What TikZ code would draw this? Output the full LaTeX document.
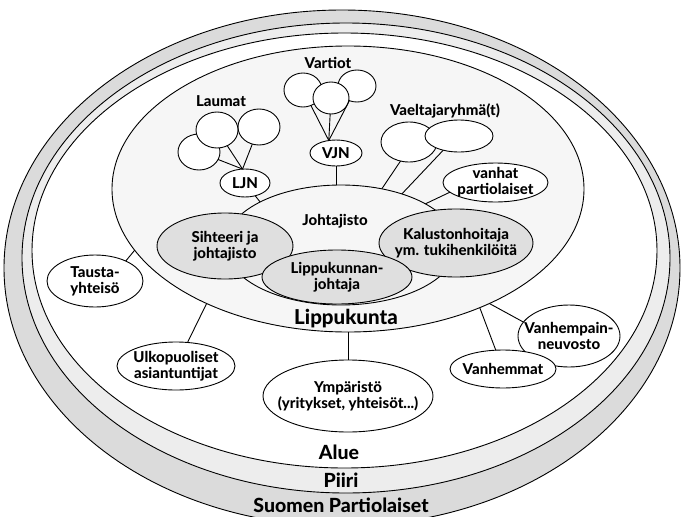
\documentclass[tikz,border=0pt]{standalone}
\usepackage{fontspec}
\setmainfont{Lato}[BoldFont={Lato Heavy}]
\usetikzlibrary{shapes.geometric}
\definecolor{bandouter}{gray}{0.86}
\definecolor{bandmid}{gray}{0.93}
\definecolor{lpkfill}{gray}{0.965}
\definecolor{ovalgray}{gray}{0.875}

\begin{document}
\begin{tikzpicture}[x=1pt,y=-1pt,line width=0.9pt,
  lbl/.style={font=\bfseries\fontsize{15}{16}\selectfont,align=center},
  oval/.style={ellipse,draw,fill=white,inner sep=-30pt,outer sep=0pt,lbl},
  grayoval/.style={oval,fill=ovalgray},
  ringlbl/.style={font=\bfseries\fontsize{19.5}{22}\selectfont,anchor=base}]
\useasboundingbox (0,0) rectangle (681,517);
\begin{scope}
\clip (0,0) rectangle (681,517);
\filldraw[fill=bandouter] (342,268) ellipse [x radius=338pt,y radius=258pt];
\filldraw[fill=bandmid] (346,258) ellipse [x radius=324pt,y radius=235pt];
\filldraw[fill=white] (344.5,250.5) ellipse [x radius=312.5pt,y radius=217.5pt];
\end{scope}
\node[ringlbl] (suomen) at (341,512) {Suomen Partiolaiset};
\node[ringlbl] (piiri) at (341,487) {Piiri};
\node[ringlbl] (alue) at (339,459) {Alue};

\node[ellipse,draw,fill=lpkfill,inner sep=-30pt,outer sep=0pt,minimum width=472pt,minimum height=286pt] (lpk) at (348,189) {};
\node[font=\bfseries\fontsize{20.5}{22}\selectfont,anchor=base] (lpklbl) at (346,324) {Lippukunta};

\node[ellipse,draw,fill=lpkfill,inner sep=-30pt,outer sep=0pt,minimum width=232pt,minimum height=120pt] (jht) at (341,245) {};
\node[lbl,anchor=base] (jhtlbl) at (335,225) {Johtajisto};
\node[grayoval,minimum width=136pt,minimum height=66pt] (siht) at (225,246) {Sihteeri ja\\johtajisto};
\node[grayoval,minimum width=154pt,minimum height=68pt] (kalu) at (456,243) {Kalustonhoitaja\\ym. tukihenkilöitä};
\node[grayoval,minimum width=150pt,minimum height=54pt] (lpj) at (337,277) {Lippukunnan-\\johtaja};

\node[lbl,anchor=base] (laumat) at (221,106) {Laumat};
\node[oval,minimum width=42pt,minimum height=36pt] (l1) at (199,152) {};
\node[oval,minimum width=42pt,minimum height=36pt] (l3) at (259,127) {};
\node[oval,minimum width=42pt,minimum height=36pt] (l2) at (217,130) {};
\node[oval,minimum width=50pt,minimum height=28pt] (ljn) at (245,183) {LJN};

\node[lbl,anchor=base] (vartiot) at (328,68) {Vartiot};
\node[oval,minimum width=38pt,minimum height=34pt] (v1) at (303,90) {};
\node[oval,minimum width=38pt,minimum height=32pt] (v3) at (357,86) {};
\node[oval,minimum width=36pt,minimum height=32pt] (v2) at (331,98) {};
\node[oval,minimum width=52pt,minimum height=26pt] (vjn) at (336,153) {VJN};

\node[lbl,anchor=base] (vaeltajat) at (445,115) {Vaeltajaryhmä(t)};
\node[oval,minimum width=56pt,minimum height=40pt] (w1) at (409,142) {};
\node[oval,minimum width=68pt,minimum height=32pt] (w2) at (459,136) {};
\node[oval,minimum width=105pt,minimum height=39pt] (vanhat) at (495.5,182.5) {vanhat\\partiolaiset};

\node[oval,minimum width=96pt,minimum height=52pt] (tausta) at (95,281) {Tausta-\\yhteisö};
\node[oval,minimum width=118pt,minimum height=48pt] (ulko) at (176,366) {Ulkopuoliset\\asiantuntijat};
\node[oval,minimum width=170pt,minimum height=72pt] (ymp) at (348,396) {Ympäristö\\(yritykset, yhteisöt...)};
\node[oval,minimum width=102pt,minimum height=62pt] (neuvosto) at (569,336) {Vanhempain-\\neuvosto};
\node[oval,minimum width=106pt,minimum height=38pt] (vanhemmat) at (503,369) {Vanhemmat};

\draw (ljn.100) -- (l1);
\draw (ljn.100) -- (l2);
\draw (ljn.100) -- (l3);
\draw (vjn.120) -- (v1);
\draw (vjn.120) -- (v2);
\draw (vjn.120) -- (v3);
\draw (ljn) -- (jht.152);
\draw (vjn.south) -- (vjn.south |- jht.north);
\draw (w1.-114) -- (jht.54);
\draw (w2.-138) -- (jht.40);
\draw (vanhat.192) -- (jht.26);
\draw (tausta.33) -- (lpk.196);
\draw (ulko) -- (lpk.219);
\draw (ymp.north) -- (ymp.north |- lpk.south);
\draw (vanhemmat.111) -- (lpk.318);
\draw (neuvosto.163) -- (lpk.321);
\end{tikzpicture}
\end{document}
